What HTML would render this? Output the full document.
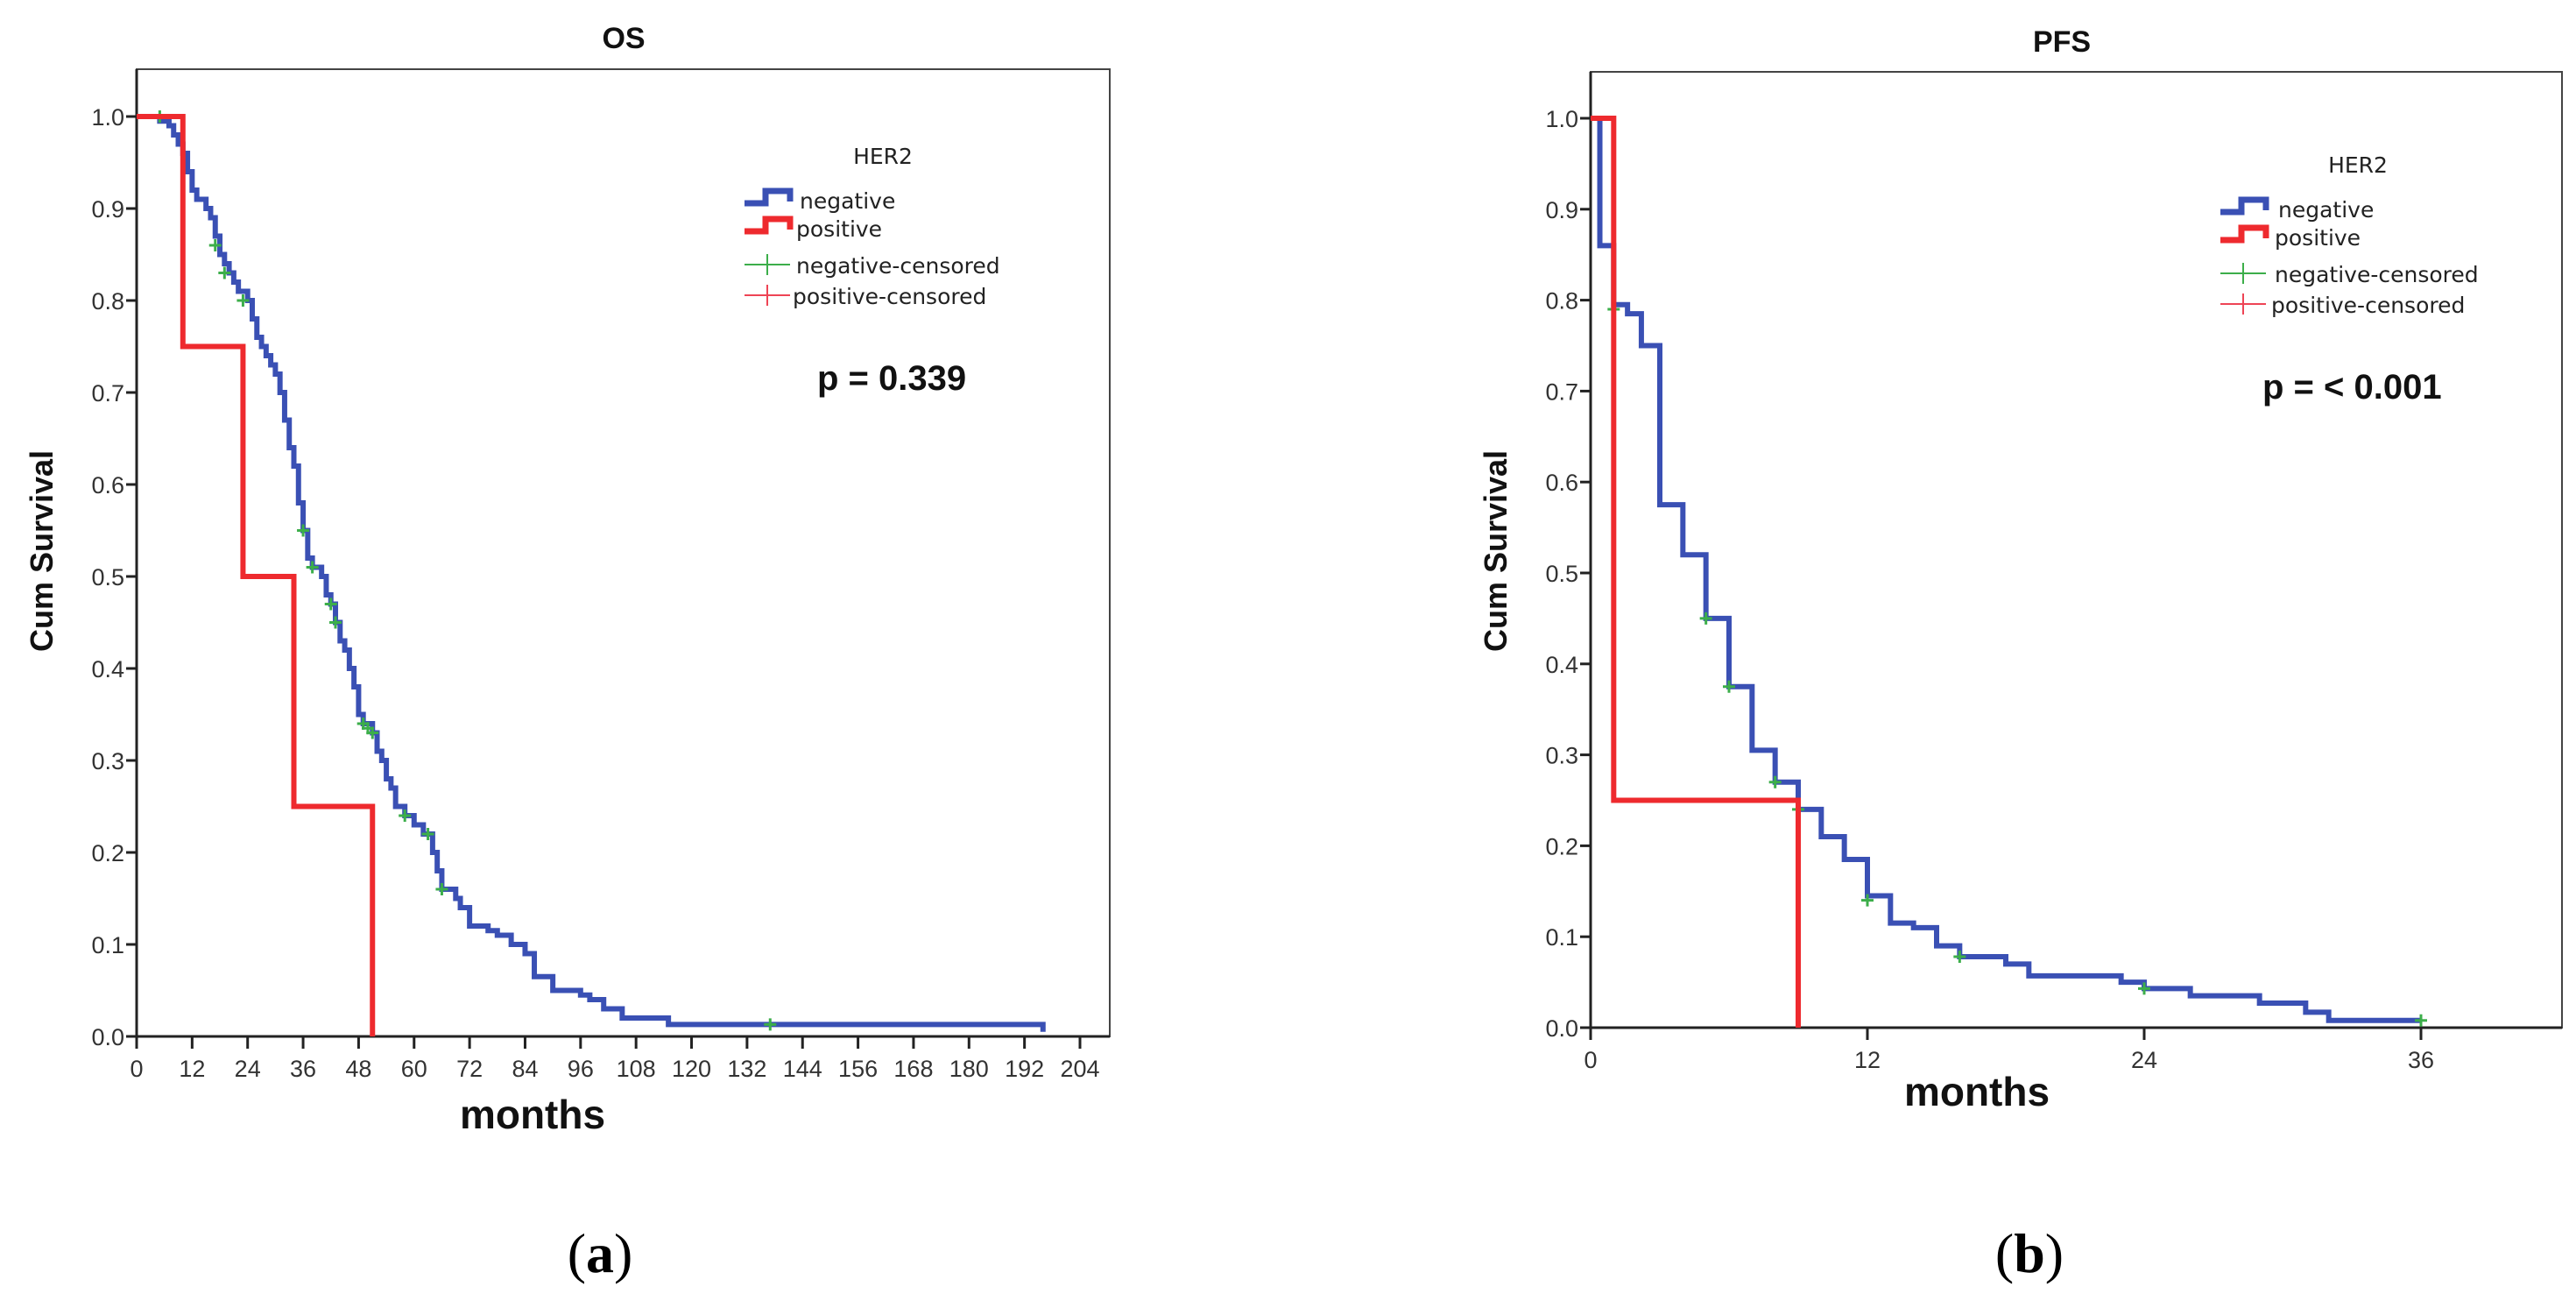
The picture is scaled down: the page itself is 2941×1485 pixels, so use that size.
<!DOCTYPE html>
<html><head><meta charset="utf-8"><style>
html,body{margin:0;padding:0;background:#fff;}
svg{display:block;}
.tk{font-family:"Liberation Sans Narrow","Liberation Sans",sans-serif;font-size:27px;fill:#333;}
.bt{font-family:"Liberation Sans",sans-serif;font-weight:bold;fill:#111;}
.lg{font-family:"DejaVu Sans","Liberation Sans",sans-serif;font-size:25px;fill:#222;}
</style></head><body>
<svg id="fig" width="2941" height="1485" viewBox="0 0 2941 1485" xmlns="http://www.w3.org/2000/svg"></svg>
<script>
// ---- OS data ----
const osNegT=[0,5,7,8,9,10,11,12,13,15,16,17,18,19,20,21,22,24,25,26,27,28,29,30,31,32,33,34,35,36,37,38,40,41,42,43,44,45,46,47,48,49,51,52,53,54,55,56,58,60,62,64,65,66,69,70,72,76,78,81,84,86,90,96,98,101,105,115];
const osNegS=[1,0.995,0.99,0.98,0.97,0.96,0.94,0.92,0.91,0.90,0.89,0.87,0.85,0.84,0.83,0.82,0.81,0.80,0.78,0.76,0.75,0.74,0.73,0.72,0.70,0.67,0.64,0.62,0.58,0.55,0.52,0.51,0.50,0.48,0.47,0.45,0.43,0.42,0.40,0.38,0.35,0.34,0.33,0.31,0.30,0.28,0.27,0.25,0.24,0.23,0.22,0.20,0.18,0.16,0.15,0.14,0.12,0.115,0.11,0.10,0.09,0.065,0.05,0.045,0.04,0.03,0.02,0.013];
const osNegEnd=196, osNegEndS=0.005;
const osNegCensT=[5,17,19,23,36,38,42,43,49,50,51,58,63,66,137];
const osNegCensS=[1.0,0.86,0.83,0.80,0.55,0.51,0.47,0.45,0.34,0.335,0.33,0.24,0.22,0.16,0.013];
const osPosT=[0,10,23,34,51];
const osPosS=[1,0.75,0.5,0.25,0];
const osXTicks=[0,12,24,36,48,60,72,84,96,108,120,132,144,156,168,180,192,204];
// ---- PFS data ----
const pfsNegT=[0,0.4,1,1.6,2.2,3,4,5,6,7,8,9,10,11,12,13,14,15,16,18,19,23,24,26,29,31,32];
const pfsNegS=[1,0.86,0.795,0.785,0.75,0.575,0.52,0.45,0.375,0.305,0.27,0.24,0.21,0.185,0.145,0.115,0.11,0.09,0.078,0.07,0.057,0.05,0.043,0.035,0.027,0.017,0.008];
const pfsNegEnd=36, pfsNegEndS=0.008;
const pfsNegCensT=[1,5,6,8,9,12,16,24,36];
const pfsNegCensS=[0.79,0.45,0.375,0.27,0.24,0.14,0.078,0.043,0.008];
const pfsPosT=[0,1,9];
const pfsPosS=[1,0.25,0];
const pfsXTicks=[0,12,24,36];
const yTicks=[0,0.1,0.2,0.3,0.4,0.5,0.6,0.7,0.8,0.9,1.0];

const NS="http://www.w3.org/2000/svg";
const svg=document.getElementById('fig');
function mk(tag,attrs,parent){const e=document.createElementNS(NS,tag);for(const k in attrs)e.setAttribute(k,attrs[k]);(parent||svg).appendChild(e);return e;}

function panel(cfg){
  const g=mk('g',{});
  
  
  const X=t=>cfg.x0+(t-cfg.tmin)*(cfg.x1-cfg.x0)/(cfg.tmax-cfg.tmin);
  const Y=s=>cfg.y0-(s)*(cfg.y0-cfg.y1);
  // frame
  const fr=mk('rect',{x:cfg.fl,y:cfg.ft,width:cfg.fr-cfg.fl,height:cfg.y0-cfg.ft,fill:'none',stroke:'#444','stroke-width':2},g);
  
  
  mk('line',{x1:cfg.fl,y1:cfg.y0,x2:cfg.fr,y2:cfg.y0,stroke:'#222','stroke-width':3},g);
  mk('line',{x1:cfg.fl,y1:cfg.ft,x2:cfg.fl,y2:cfg.y0,stroke:'#222','stroke-width':3},g);
  // y ticks
  yTicks.forEach(v=>{
    mk('line',{x1:cfg.fl-12,y1:Y(v),x2:cfg.fl,y2:Y(v),stroke:'#222','stroke-width':3},g);
    const t=mk('text',{x:cfg.fl-14,y:Y(v)+10,'text-anchor':'end',class:'tk'},g);
    t.textContent=v.toFixed(1);
    
    
  });
  cfg.xticks.forEach(v=>{
    mk('line',{x1:X(v),y1:cfg.y0,x2:X(v),y2:cfg.y0+14,stroke:'#222','stroke-width':3},g);
    const t=mk('text',{x:X(v),y:cfg.y0+46,'text-anchor':'middle',class:'tk'},g);
    t.textContent=v;
    
    
  });
  function stepPath(T,S,endT,endS){
    let d='M'+X(T[0])+','+Y(S[0]);
    for(let i=1;i<T.length;i++){d+=' H'+X(T[i])+' V'+Y(S[i]);}
    if(endT!==undefined){d+=' H'+X(endT)+' V'+Y(endS);}
    return d;
  }
  const neg=mk('path',{d:stepPath(cfg.negT,cfg.negS,cfg.negEnd,cfg.negEndS),fill:'none',stroke:'#3a50b4','stroke-width':6,'stroke-linejoin':'miter'},g);
  
  
  cfg.censT.forEach((t,i)=>{
    const c=mk('path',{d:'M'+(X(t)-7)+','+Y(cfg.censS[i])+' h14 M'+X(t)+','+(Y(cfg.censS[i])-7)+' v14',stroke:'#3cae4a','stroke-width':3},g);
    
    
  });
  const pos=mk('path',{d:stepPath(cfg.posT,cfg.posS),fill:'none',stroke:'#ee2a2e','stroke-width':6},g);
  
  
  // titles
  const ti=mk('text',{x:cfg.titleX,y:cfg.titleY,'text-anchor':'middle',class:'bt','font-size':34},g);
  ti.textContent=cfg.title;
  
  
  const yt=mk('text',{x:0,y:0,'text-anchor':'middle',class:'bt','font-size':36,transform:'translate('+cfg.ytX+','+cfg.ytY+') rotate(-90)'},g);
  yt.textContent='Cum Survival';
  
  
  const xt=mk('text',{x:cfg.xtX,y:cfg.xtY,'text-anchor':'middle',class:'bt','font-size':46},g);
  xt.textContent='months';
  
  
  // legend
  const L=cfg.leg;
  const lg=mk('g',{},g);
  
  
  const h=mk('text',{x:L.hx,y:L.hy,'text-anchor':'middle',class:'lg','font-size':31},lg);
  h.textContent='HER2';
  const sym=(y,col)=>mk('path',{d:'M'+L.sx+','+(y+4)+' h24 v-14 h28 v12',fill:'none',stroke:col,'stroke-width':7},lg);
  sym(L.y1-10,'#3a50b4');sym(L.y2-10,'#ee2a2e');
  mk('path',{d:'M'+L.sx+','+(L.y3-10)+' h52 M'+(L.sx+26)+','+(L.y3-22)+' v24',stroke:'#3cae4a','stroke-width':2},lg);
  mk('path',{d:'M'+L.sx+','+(L.y4-10)+' h52 M'+(L.sx+26)+','+(L.y4-22)+' v24',stroke:'#ee4455','stroke-width':2},lg);
  [['negative',L.y1,L.tx+4],['positive',L.y2,L.tx],['negative-censored',L.y3,L.tx],['positive-censored',L.y4,L.tx-4]].forEach(a=>{
    const t=mk('text',{x:a[2],y:a[1],class:'lg','font-size':28},lg);
    t.textContent=a[0];
    
    
  });
  const p=mk('text',{x:L.px,y:L.py,class:'bt','font-size':40},g);
  p.textContent=cfg.p;
  
  
  const sub=mk('text',{x:cfg.subX,y:1452,'text-anchor':'middle','font-family':'Liberation Serif, serif','font-size':64,fill:'#000'},g);
  sub.innerHTML=cfg.sub;
  
  
}

panel({name:'os-chart',tmin:0,tmax:204,x0:156,x1:1233,y0:1183,y1:133,fl:156,fr:1267,ft:79,xticks:osXTicks,
  negT:osNegT,negS:osNegS,negEnd:osNegEnd,negEndS:osNegEndS,censT:osNegCensT,censS:osNegCensS,posT:osPosT,posS:osPosS,
  title:'OS',titleX:712,titleY:55,ytX:60,ytY:629,xtX:608,xtY:1288,
  leg:{hx:1008,hy:187,sx:850,tx:909,y1:238,y2:270,y3:312,y4:347,px:933,py:445},p:'p = 0.339',subX:685,sub:'(<tspan font-weight="bold">a</tspan>)'});
panel({name:'pfs-chart',tmin:0,tmax:36,x0:1816,x1:2764,y0:1173,y1:135,fl:1816,fr:2925,ft:82,xticks:pfsXTicks,
  negT:pfsNegT,negS:pfsNegS,negEnd:pfsNegEnd,negEndS:pfsNegEndS,censT:pfsNegCensT,censS:pfsNegCensS,posT:pfsPosT,posS:pfsPosS,
  title:'PFS',titleX:2354,titleY:59,ytX:1720,ytY:629,xtX:2257,xtY:1262,
  leg:{hx:2692,hy:197,sx:2535,tx:2597,y1:248,y2:280,y3:322,y4:357,px:2583,py:455},p:'p = < 0.001',subX:2317,sub:'(<tspan font-weight="bold">b</tspan>)'});
</script>
</body></html>
